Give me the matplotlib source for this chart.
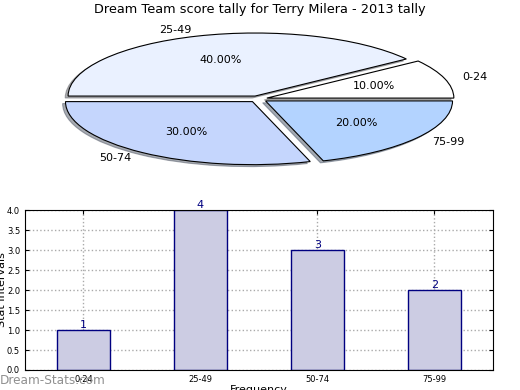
import matplotlib
matplotlib.use('Agg')
import matplotlib.pyplot as plt
import numpy as np

# Data
categories = ['0-24', '25-49', '50-74', '75-99']
counts = [1, 4, 3, 2]
slice_colors = ['#ffffff', '#eaf1ff', '#c5d6fd', '#b3d3ff']

fig = plt.figure(figsize=(5.2, 3.9), dpi=100)

# Pie chart (flattened, exploded, with shadow)
ax_pie = fig.add_axes([0.0646, 0.552, 0.863, 0.388])
ax_pie.pie(counts, labels=categories, colors=slice_colors, autopct='%1.2f%%',
           explode=[0.05] * len(counts),
           shadow={'ox': -0.011, 'oy': -0.022, 'shade': 0.6},
           wedgeprops={'edgecolor': 'black', 'linewidth': 0.8},
           textprops={'fontsize': 8})
ax_pie.set_aspect('auto')
ax_pie.set_xlim(-1.2, 1.2)
ax_pie.set_ylim(-1.2, 1.2)
ax_pie.axis('off')
fig.text(0.5, 0.975, 'Dream Team score tally for Terry Milera - 2013 tally',
         ha='center', va='center', fontsize=9.3)

# Bar chart
ax_bar = fig.add_axes([0.048, 0.0513, 0.9, 0.41])
x = np.arange(len(categories))
ax_bar.bar(x, counts, width=0.45, color='#cccce3', edgecolor='#000080',
           linewidth=1, zorder=2)
for xi, c in zip(x, counts):
    ax_bar.text(xi, c, str(c), ha='center', va='bottom', color='#000080',
                fontsize=8, zorder=3)
ax_bar.set_xlim(-0.5, len(categories) - 0.5)
ax_bar.set_ylim(0, 4)
ax_bar.set_yticks(np.arange(0, 4.01, 0.5))
ax_bar.set_xticks(x)
ax_bar.set_xticklabels(categories)
ax_bar.tick_params(labelsize=6, direction='in', top=True, right=True, length=3)
ax_bar.grid(True, linestyle=':', color='#aaaaaa', linewidth=1, zorder=0)
ax_bar.set_axisbelow(True)
ax_bar.set_xlabel('Frequency', fontsize=8, labelpad=1)
ax_bar.set_ylabel('Stat Intervals', fontsize=8)
ax_bar.yaxis.set_label_coords(-0.0385, 0.5)

# Watermark
fig.text(0.0, 0.025, 'Dream-Stats.com', ha='left', va='center',
         fontsize=8.7, color='#909090')

fig.savefig('out.png', dpi=100)
